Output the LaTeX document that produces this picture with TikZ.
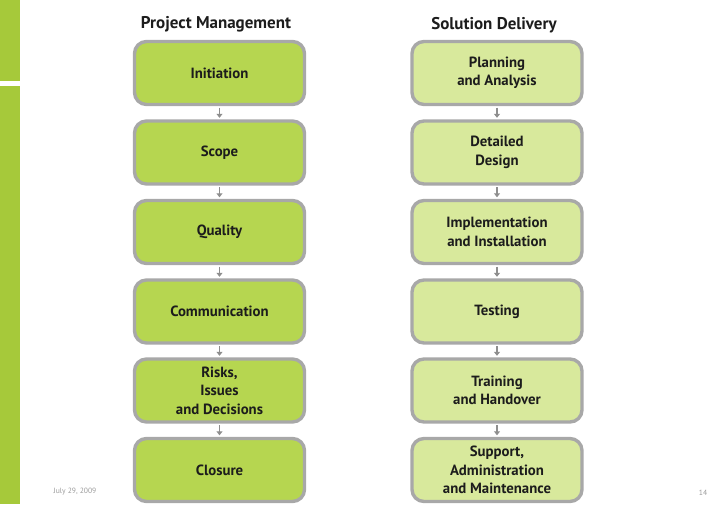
\documentclass[tikz,border=0pt]{standalone}
\usepackage{fontspec}
\setmainfont{PT Sans}
\usetikzlibrary{arrows.meta}
\definecolor{barcol}{HTML}{A6C93A}
\definecolor{pmfill}{HTML}{B6D650}
\definecolor{sdfill}{HTML}{D8E99C}
\definecolor{edgecol}{HTML}{A8A8A8}
\definecolor{arrcol}{HTML}{8E8E8E}
\definecolor{txtcol}{HTML}{1C1C1C}
\definecolor{footcol}{HTML}{9A9A9A}
\tikzset{
  boxbase/.style={draw=edgecol, line width=3.4pt, rounded corners=12pt,
    minimum width=170pt, minimum height=63pt, align=center, text=txtcol,
    font=\fontsize{14.8}{18.5}\selectfont\bfseries, inner sep=0pt},
  pmbox/.style={boxbase, fill=pmfill},
  sdbox/.style={boxbase, fill=sdfill},
  conn/.style={draw=arrcol, line width=1.3pt, -{Triangle[length=4pt,width=6pt]}, shorten >=1.5pt, shorten <=1.5pt},
  title/.style={font=\fontsize{17}{20}\selectfont\bfseries, text=txtcol, inner sep=0pt},
  foot/.style={font=\fontsize{7.6}{9}\selectfont, text=footcol, inner sep=0pt}
}
\begin{document}
\begin{tikzpicture}[x=1pt,y=-1pt]
\useasboundingbox (0,0) rectangle (728,504);
\fill[barcol] (0,0) rectangle (20,81);
\fill[barcol] (0,86) rectangle (20,504);

\node[title] (tpm) at (216,24) {Project Management};
\node[title] (tsd) at (494,25) {Solution Delivery};

\node[pmbox] (p1) at (219.5,73) {Initiation};
\node[pmbox] (p2) at (219.5,152.5) {Scope};
\node[pmbox] (p3) at (219.5,232) {Quality};
\node[pmbox] (p4) at (219.5,311.5) {Communication};
\node[pmbox] (p5) at (219.5,390.5) {Risks,\\Issues\\and Decisions};
\node[pmbox] (p6) at (219.5,470) {Closure};

\node[sdbox] (s1) at (497,73) {Planning\\and Analysis};
\node[sdbox] (s2) at (497,152.5) {Detailed\\Design};
\node[sdbox] (s3) at (497,232) {Implementation\\and Installation};
\node[sdbox] (s4) at (497,311.5) {Testing};
\node[sdbox] (s5) at (497,390.5) {Training\\and Handover};
\node[sdbox] (s6) at (497,470) {Support,\\Administration\\and Maintenance};

\foreach \a/\b in {p1/p2,p2/p3,p3/p4,p4/p5,p5/p6,s1/s2,s2/s3,s3/s4,s4/s5,s5/s6}
  \draw[conn] (\a.south) -- (\b.north);

\node[foot] (date) at (75,492) {July 29, 2009};
\node[foot] (page) at (703,493) {14};
\end{tikzpicture}
\end{document}
